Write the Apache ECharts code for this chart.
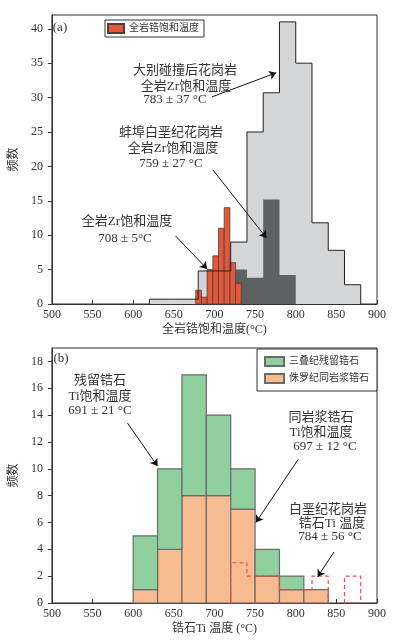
<!DOCTYPE html>
<html>
<head>
<meta charset="utf-8">
<script src="https://cdn.jsdelivr.net/npm/echarts@6/dist/echarts.min.js"></script>
<style>
  html, body { margin: 0; padding: 0; background: #fff; }
  #chart { width: 396px; height: 640px; }
</style>
</head>
<body>
<div id="chart"></div>
<script>
// (a) whole-rock zircon saturation temperature
const xTicks = [500, 550, 600, 650, 700, 750, 800, 850, 900]
const yTicksA = [0, 5, 10, 15, 20, 25, 30, 35, 40]
const yTicksB = [0, 2, 4, 6, 8, 10, 12, 14, 16, 18]

const dabieEdges = [620, 650, 680, 720, 740, 760, 780, 800, 820, 840, 860, 880]
const dabieCounts = [0.7, 0.7, 4.8, 9, 25, 30.7, 41, 35, 11.8, 7.8, 2.8]
const bengbuEdges = [720, 740, 760, 780, 800]
const bengbuCounts = [5, 3.8, 15.2, 4.2]
const wholeRockEdges = [677, 684, 691, 698, 705, 712, 719, 726, 733]
const wholeRockCounts = [2, 1, 5, 7, 11, 14, 6, 3]

// (b) Ti-in-zircon temperature
const tiEdges = [600, 630, 660, 690, 720, 750, 780, 810, 840]
const jurassicCounts = [1, 4, 8, 8, 7, 2, 1, 1]
const triassicCounts = [4, 6, 9, 6, 3, 2, 1, 0]
const cretEdges = [720, 740, 760, 780, 800, 820, 840, 860, 880]
const cretCounts = [3, 2, 2, 1, 1, 2, 0, 2]

const FONT = "'Liberation Serif', 'Noto Sans CJK SC', serif"
const TXT = '#333'

function outline(edges, counts) {
  const pts = [[edges[0], 0]]
  counts.forEach((c, i) => {
    pts.push([edges[i], c], [edges[i + 1], c])
  })
  pts.push([edges[edges.length - 1], 0])
  return pts
}

// closed outlines of runs of non-empty bins
function runs(edges, counts) {
  const out = []
  let start = -1
  for (let i = 0; i <= counts.length; i++) {
    if (i < counts.length && counts[i] > 0) {
      if (start < 0) start = i
    } else if (start >= 0) {
      const pts = outline(edges.slice(start, i + 1), counts.slice(start, i))
      pts.push([edges[start], 0])
      out.push(pts)
      start = -1
    }
  }
  return out
}

function bins(edges, counts, base) {
  return counts.map((c, i) => {
    const b = base ? base[i] : 0
    return [edges[i], edges[i + 1], b, b + c]
  }).filter(d => d[3] > d[2])
}

function rectItem(params, api) {
  const p0 = api.coord([api.value(0), api.value(3)])
  const p1 = api.coord([api.value(1), api.value(2)])
  return {
    type: 'rect',
    shape: { x: p0[0], y: p0[1], width: p1[0] - p0[0], height: p1[1] - p0[1] },
    style: api.style()
  }
}

function xAxis(gridIndex, name) {
  return {
    type: 'value', gridIndex, min: 500, max: 900, interval: 50,
    name, nameLocation: 'middle', nameGap: 20,
    nameTextStyle: { fontFamily: FONT, fontSize: 12, color: TXT },
    axisLine: { lineStyle: { color: '#333', width: 1 } },
    axisTick: { inside: true, length: 4, lineStyle: { color: '#333' } },
    axisLabel: { fontFamily: FONT, fontSize: 12, color: TXT, margin: 5 },
    splitLine: { show: false }
  }
}

function yAxis(gridIndex, max, interval, ticks) {
  return {
    type: 'value', gridIndex, min: 0, max, interval,
    name: '频数', nameLocation: 'middle', nameGap: 17,
    nameTextStyle: { fontFamily: FONT, fontSize: 12, color: TXT },
    axisLine: { show: true, lineStyle: { color: '#333', width: 1 } },
    axisTick: { show: true, length: 4, customValues: ticks, lineStyle: { color: '#333' } },
    axisLabel: { fontFamily: FONT, fontSize: 12, color: TXT, margin: 9, customValues: ticks },
    splitLine: { show: false }
  }
}

function arrow(from, to) {
  return [{ coord: from }, { coord: to }]
}

const arrowLine = {
  silent: true,
  symbol: ['none', 'arrow'],
  symbolSize: 7,
  label: { show: false },
  lineStyle: { color: '#111', width: 1, type: 'solid' },
  emphasis: { disabled: true }
}

function text(x, y, str, size) {
  return {
    type: 'text', x, y,
    style: { text: str, font: (size || 13) + 'px ' + FONT, fill: TXT, align: 'center', verticalAlign: 'middle' }
  }
}

const series = [
  {
    name: 'dabieArea', type: 'line', xAxisIndex: 0, yAxisIndex: 0, z: 1,
    data: outline(dabieEdges, dabieCounts), showSymbol: false, silent: true,
    lineStyle: { width: 0 }, areaStyle: { color: '#d4d5d7', opacity: 1 }
  },
  {
    name: 'bengbu', type: 'line', xAxisIndex: 0, yAxisIndex: 0, z: 2,
    data: outline(bengbuEdges, bengbuCounts), showSymbol: false, silent: true,
    lineStyle: { width: 0 }, areaStyle: { color: '#5e6064', opacity: 1 }
  },
  {
    name: '全岩锆饱和温度', type: 'custom', xAxisIndex: 0, yAxisIndex: 0, z: 3,
    renderItem: rectItem, encode: { x: [0, 1], y: [2, 3] },
    data: bins(wholeRockEdges, wholeRockCounts),
    itemStyle: { color: '#e0593d', borderColor: '#5a3a34', borderWidth: 0.8 }
  },
  {
    name: 'dabieLine', type: 'line', xAxisIndex: 0, yAxisIndex: 0, z: 4,
    data: outline(dabieEdges, dabieCounts), showSymbol: false, silent: true,
    lineStyle: { color: '#222', width: 1 },
    markLine: Object.assign({
      data: [
        arrow([697, 30.1], [776, 33.6]),
        arrow([698, 19.5], [764, 9.6]),
        arrow([652, 9.9], [691, 5.1])
      ]
    }, arrowLine)
  },
  {
    name: '侏罗纪同岩浆锆石', type: 'custom', xAxisIndex: 1, yAxisIndex: 1, z: 2,
    renderItem: rectItem, encode: { x: [0, 1], y: [2, 3] },
    data: bins(tiEdges, jurassicCounts),
    itemStyle: { color: '#f7bb92', borderColor: '#6b6b6b', borderWidth: 1.2 }
  },
  {
    name: '三叠纪残留锆石', type: 'custom', xAxisIndex: 1, yAxisIndex: 1, z: 2,
    renderItem: rectItem, encode: { x: [0, 1], y: [2, 3] },
    data: bins(tiEdges, triassicCounts, jurassicCounts),
    itemStyle: { color: '#8fd09e', borderColor: '#6b6b6b', borderWidth: 1.2 }
  }
]

runs(cretEdges, cretCounts).forEach((pts, i) => {
  const s = {
    name: 'cret' + i, type: 'line', xAxisIndex: 1, yAxisIndex: 1, z: 4,
    data: pts, showSymbol: false, silent: true,
    lineStyle: { color: '#f04848', width: 1.2, type: [4, 3] }
  }
  if (i === 0) {
    s.markLine = Object.assign({
      data: [
        arrow([593, 13.4], [630, 10.2]),
        arrow([803, 10.7], [751, 6.0]),
        arrow([847, 3.8], [827, 1.95])
      ]
    }, arrowLine)
  }
  series.push(s)
})

const chart = echarts.init(document.getElementById('chart'))
chart.setOption({
  animation: false,
  backgroundColor: '#fff',
  grid: [
    { left: 38, right: 19, top: 15, height: 289, show: true, borderColor: '#333', borderWidth: 1, backgroundColor: 'transparent' },
    { left: 38, right: 19, top: 348, height: 255, show: true, borderColor: '#333', borderWidth: 1, backgroundColor: 'transparent' }
  ],
  xAxis: [xAxis(0, '全岩锆饱和温度(°C)'), xAxis(1, '锆石Ti 温度 (°C)')],
  yAxis: [yAxis(0, 42, 5, yTicksA), yAxis(1, 19, 2, yTicksB)],
  legend: [
    {
      data: [{ name: '全岩锆饱和温度', icon: 'rect' }],
      left: 105, top: 20, padding: [3, 5, 3, 2],
      itemWidth: 16, itemHeight: 9, itemGap: 6,
      borderColor: '#333', borderWidth: 1, backgroundColor: '#fff',
      textStyle: { fontFamily: FONT, fontSize: 10, color: TXT },
      selectedMode: false
    },
    {
      data: [{ name: '三叠纪残留锆石', icon: 'rect' }, { name: '侏罗纪同岩浆锆石', icon: 'rect' }],
      orient: 'vertical', left: 257, top: 349, padding: [7, 8, 7, 7],
      itemWidth: 19, itemHeight: 9, itemGap: 6,
      borderColor: '#333', borderWidth: 1, backgroundColor: '#fff',
      textStyle: { fontFamily: FONT, fontSize: 10, color: TXT },
      selectedMode: false
    }
  ],
  graphic: [
    text(60, 28, '(a)'),
    text(185, 71, '大别碰撞后花岗岩'),
    text(186, 87, '全岩Zr饱和温度'),
    text(175, 100, '783 ± 37 °C'),
    text(171, 133, '蚌埠白垩纪花岗岩'),
    text(173, 149, '全岩Zr饱和温度'),
    text(171, 164, '759 ± 27 °C'),
    text(127, 222, '全岩Zr饱和温度'),
    text(125, 239, '708 ± 5°C'),
    text(61, 359, '(b)'),
    text(100, 381, '残留锆石'),
    text(100, 397, 'Ti饱和温度'),
    text(100, 411, '691 ± 21 °C'),
    text(321, 418, '同岩浆锆石'),
    text(321, 433, 'Ti饱和温度'),
    text(325, 447, '697 ± 12 °C'),
    text(328, 510, '白垩纪花岗岩'),
    text(332, 524, '锆石Ti 温度'),
    text(330, 537, '784 ± 56 °C')
  ],
  series
})
</script>
</body>
</html>
